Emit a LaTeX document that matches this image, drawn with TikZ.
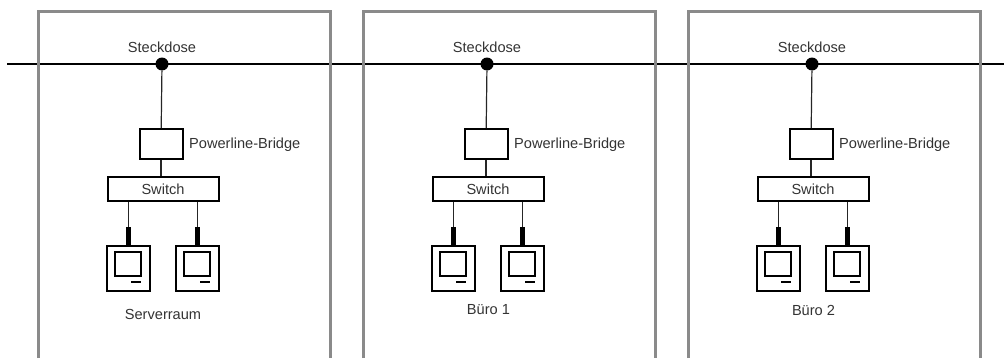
\documentclass[tikz,border=0pt]{standalone}
\usepackage{fontspec}
\setmainfont{Liberation Sans}
\definecolor{raumgrau}{HTML}{8A8A8A}
\tikzset{
  raum/.style={draw=raumgrau, line width=3pt},
  leitung/.style={draw=black!85, line width=1.2pt},
  kasten/.style={draw=black, line width=2pt, inner sep=0pt},
  dose/.style={circle, fill=black, inner sep=0pt, minimum size=13pt},
  beschriftung/.style={font=\fontsize{14.6}{17}\selectfont, text=black!80, inner sep=0pt}
}
\begin{document}
\begin{tikzpicture}[x=1pt,y=-1pt]
  \useasboundingbox (0,0) rectangle (1004,359);

  % Stromleitung
  \coordinate (links) at (7,64);
  \coordinate (rechts) at (1004,64);
  \draw[line width=1.8pt] (links) -- (rechts);

  % Die drei Raeume
  \foreach \r/\dx/\raumname/\tx/\ty in {a/0/Serverraum/163/314,b/325/B\"uro 1/163.5/310,c/650/B\"uro 2/163.5/310}{
    \begin{scope}[xshift=\dx pt, name prefix=\r-]
      \draw[raum] (38,358) |- (330,11) -- (330,358);
      \node[dose] (dose) at (162,64) {};
      \node[beschriftung] (dosetext) at (162,47.5) {Steckdose};
      \node[kasten, minimum width=43pt, minimum height=30pt] (bridge) at (161,144) {};
      \node[beschriftung, anchor=west] (bridgetext) at (189,144.5) {Powerline-Bridge};
      \node[kasten, beschriftung, draw=black, minimum width=111pt, minimum height=24pt] (switch) at (163,189) {Switch};

      % Rechner
      \foreach \p/\px in {l/128.5,r/197.5}{
        \node[kasten, minimum width=43pt, minimum height=45pt] (pc\p) at (\px,268) {};
        \node[kasten, minimum width=26pt, minimum height=24pt] (screen\p) at (\px-0.5,264) {};
        \coordinate (strich\p) at (\px+2.5,282);
        \coordinate (stecker\p) at (\px,227);
        \draw[line width=1.8pt] (strich\p) -- ++(10,0);
        \draw[line width=4.5pt] (pc\p.north) -- (stecker\p);
        \draw[leitung] (stecker\p) -- (switch.south -| stecker\p);
      }

      \draw[leitung] (dose) -- (bridge);
      \draw[leitung] (bridge) -- (switch.north -| bridge);
      \node[beschriftung] (raumtext) at (\tx,\ty) {\raumname};
    \end{scope}
  }
\end{tikzpicture}
\end{document}
